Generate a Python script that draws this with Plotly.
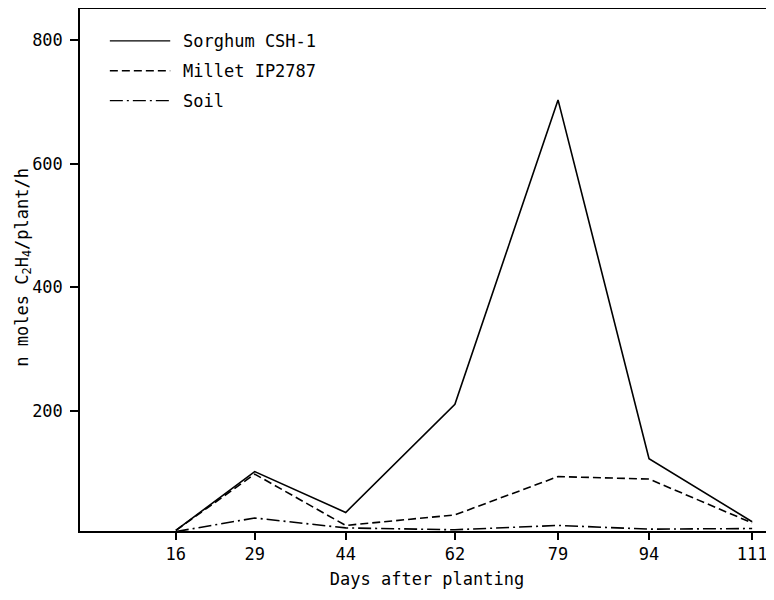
import plotly.graph_objects as go

days = [16, 29, 44, 62, 79, 94, 111]
sorghum = [7, 102, 36, 211, 703, 123, 21]
millet = [7, 98, 15, 32, 94, 90, 19]
soil = [5, 27, 11, 8, 15, 9, 10]
series_names = ["Sorghum CSH-1", "Millet IP2787", "Soil"]
y_ticks = [200, 400, 600, 800]

FONT = "DejaVu Sans Mono"
dashes = ["solid", "8px,4px", "13px,4px,2px,4px"]

fig = go.Figure()
for name, vals, dash in zip(series_names, [sorghum, millet, soil], dashes):
    fig.add_trace(go.Scatter(x=days, y=vals, mode="lines", name=name,
                             line=dict(color="black", width=1.6, dash=dash),
                             showlegend=False))

# manual legend (sample line + label)
leg_y = [0.937, 0.880, 0.823]
for name, dash, yy in zip(series_names, dashes, leg_y):
    fig.add_shape(type="line", xref="paper", yref="paper",
                  x0=0.043, x1=0.130, y0=yy, y1=yy,
                  line=dict(color="black", width=1.3, dash=dash))
    fig.add_annotation(xref="paper", yref="paper", x=0.145, y=yy,
                       text=name, showarrow=False, xanchor="left", yanchor="middle",
                       font=dict(family=FONT, size=17, color="black"))

# y-axis title
fig.add_annotation(xref="paper", yref="paper", x=-0.081, y=0.505,
                   text="n moles C<sub>2</sub>H<sub>4</sub>/plant/h", textangle=-90,
                   showarrow=False, xanchor="center", yanchor="middle",
                   font=dict(family=FONT, size=17, color="black"))

# page body adds an 8px offset, so the figure is sized to fit the window
fig.update_layout(
    width=766, height=592,
    margin=dict(l=72, r=0, t=0, b=69, autoexpand=False),
    paper_bgcolor="white", plot_bgcolor="white",
    font=dict(family=FONT, size=17, color="black"),
    xaxis=dict(range=[0.2, 114.6], tickvals=days, ticktext=[str(d) for d in days],
               showgrid=False, zeroline=False, showline=True, linecolor="black",
               linewidth=2, ticks="outside", ticklen=7, tickwidth=1.5,
               tickcolor="black", mirror=False, automargin=False,
               title=dict(text="Days after planting", standoff=10,
                          font=dict(family=FONT, size=17))),
    yaxis=dict(range=[6, 851.6], tickvals=y_ticks,
               showgrid=False, zeroline=False, showline=True, linecolor="black",
               linewidth=1.5, ticks="outside", ticklen=8, tickwidth=1.5,
               tickcolor="black", ticklabelstandoff=4, automargin=False),
)
# top border line of the frame
fig.add_shape(type="line", xref="paper", yref="paper", x0=0, x1=1, y0=1, y1=1,
              line=dict(color="black", width=2))

fig.write_html("out.html")
